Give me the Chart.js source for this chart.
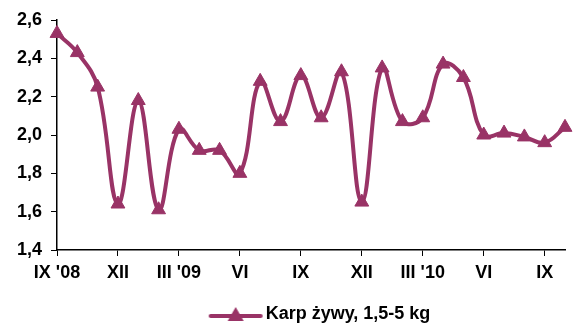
<!DOCTYPE html>
<html>
<head>
<meta charset="utf-8">
<script src="https://cdn.jsdelivr.net/npm/chart.js@4"></script>
<style>
  html, body { margin: 0; padding: 0; background: #fff; }
  #wrap { width: 574px; height: 325px; }
</style>
</head>
<body>
<div id="wrap"><canvas id="chart"></canvas></div>
<script>
// ── Data ────────────────────────────────────────────────────────────────────
const months = ['IX \'08', 'X', 'XI', 'XII', 'I', 'II', 'III \'09', 'IV', 'V', 'VI', 'VII', 'VIII',
  'IX', 'X', 'XI', 'XII', 'I', 'II', 'III \'10', 'IV', 'V', 'VI', 'VII', 'VIII', 'IX', 'X'];
const karpPrices = [2.53, 2.43, 2.25, 1.64, 2.18, 1.61, 2.03, 1.92, 1.92, 1.80, 2.28, 2.07,
  2.31, 2.09, 2.33, 1.65, 2.35, 2.07, 2.09, 2.37, 2.30, 2.00, 2.01, 1.99, 1.96, 2.04];
const seriesName = 'Karp żywy, 1,5-5 kg';

const COLOR = '#993366';
const FONT = { family: 'Arial, "Liberation Sans", sans-serif', size: 18, weight: 'bold' };

// legend symbol: short line with a triangle in the middle
// (drawn in the right part of a wider canvas so it sits close to the text)
function legendSymbol() {
  const c = document.createElement('canvas');
  c.width = 70; c.height = 18;
  const g = c.getContext('2d');
  g.strokeStyle = COLOR; g.lineWidth = 4; g.lineCap = 'round';
  g.beginPath(); g.moveTo(17, 11); g.lineTo(67, 11); g.stroke();
  g.fillStyle = COLOR;
  g.beginPath(); g.moveTo(42, 2); g.lineTo(50, 16); g.lineTo(34, 16); g.closePath(); g.fill();
  return c;
}

// nudge the legend right and down, as in the original
const legendShift = {
  id: 'legendShift',
  afterLayout(chart) {
    const lg = chart.legend;
    lg.left += 32; lg.right += 32;
    lg.top += 8; lg.bottom += 8;
  }
};

new Chart(document.getElementById('chart'), {
  type: 'line',
  data: {
    labels: months,
    datasets: [{
      label: seriesName,
      data: karpPrices,
      borderColor: COLOR,
      backgroundColor: COLOR,
      borderWidth: 4,
      tension: 0.4,
      pointStyle: 'triangle',
      pointRadius: 8,
      pointBackgroundColor: COLOR,
      pointBorderColor: COLOR,
      pointBorderWidth: 1,
      fill: false,
    }]
  },
  plugins: [legendShift],
  options: {
    responsive: true,
    maintainAspectRatio: false,
    animation: false,
    events: [],
    layout: { padding: { left: 0, right: 7, top: 20, bottom: 0 } },
    plugins: {
      tooltip: { enabled: false },
      legend: {
        position: 'bottom',
        labels: {
          color: '#000',
          font: FONT,
          usePointStyle: true,
          pointStyle: legendSymbol(),
          pointStyleWidth: 56,
          boxHeight: 18,
          padding: 4,
        }
      }
    },
    scales: {
      x: {
        offset: false,
        afterFit: s => { s.height = 43; },
        border: { color: '#000', width: 1.5 },
        grid: {
          drawOnChartArea: false,
          tickLength: 6,
          color: ctx => (ctx.index % 3 === 0 ? '#000' : 'rgba(0,0,0,0)'),
        },
        ticks: {
          color: '#000', font: FONT, autoSkip: false, maxRotation: 0, padding: 6,
          callback: function (v, i) { return i % 3 === 0 ? this.getLabelForValue(v) : ''; }
        }
      },
      y: {
        min: 1.4, max: 2.6,
        afterFit: s => { s.width = 57; },
        border: { color: '#000', width: 1.5 },
        grid: { drawOnChartArea: false, tickLength: 6, color: '#000' },
        ticks: {
          color: '#000', font: FONT, stepSize: 0.2, padding: 9,
          callback: v => v.toFixed(1).replace('.', ',')
        }
      }
    }
  }
});
</script>
</body>
</html>
